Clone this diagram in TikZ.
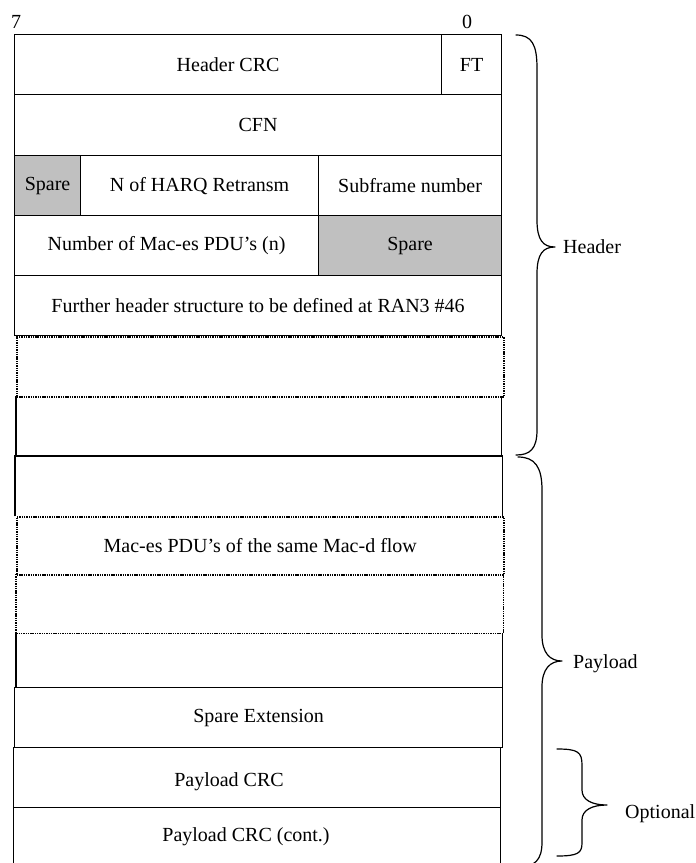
\documentclass[tikz,border=0pt]{standalone}
\usepackage{fontspec}
\setmainfont{Liberation Serif}
\definecolor{sparegray}{RGB}{192,192,192}
\begin{document}
\begin{tikzpicture}[x=1pt,y=-1pt,
  cell/.style={draw, line width=1.2pt, rectangle, inner sep=0pt, anchor=north west, font=\fontsize{20}{24}\selectfont},
  opencell/.style={rectangle, inner sep=0pt, anchor=north west},
  edge/.style={line width=1.2pt},
  dedge/.style={dash pattern=on 1.4pt off 0.9pt, line width=1.6pt},
  dcell/.style={cell, dash pattern=on 1.4pt off 0.9pt, line width=1.6pt},
  sparecell/.style={cell, fill=sparegray},
  lbl/.style={inner sep=0pt, font=\fontsize{20}{24}\selectfont},
  bracepath/.style={line width=1.2pt, line join=round, line cap=round}]
\useasboundingbox (0,0) rectangle (696,863);
% row 1
\node[cell, minimum width=427pt, minimum height=60pt] (hcrc) at (14,34) {Header CRC};
\node[cell, minimum width=60pt, minimum height=60pt] (ft) at (441,34) {FT};
% row 2
\node[cell, minimum width=487pt, minimum height=61pt] (cfn) at (14,94) {CFN};
% row 3
\node[sparecell, minimum width=66pt, minimum height=60pt] (spare1) at (14,155) {Spare};
\node[cell, minimum width=238pt, minimum height=60pt] (harq) at (80,155) {N of HARQ Retransm};
\node[cell, minimum width=183pt, minimum height=60pt] (subf) at (318,155) {Subframe number};
% row 4
\node[cell, minimum width=304pt, minimum height=60pt] (nmac) at (14,215) {Number of Mac-es PDU’s (n)};
\node[sparecell, minimum width=183pt, minimum height=60pt] (spare2) at (318,215) {Spare};
% row 5
\node[cell, minimum width=487pt, minimum height=60pt] (further) at (14,275) {Further header structure to be defined at RAN3 \#46};
% row 6
\node[dcell, minimum width=487pt, minimum height=60pt] (dota) at (16,336) {};
% row 7
\node[opencell, minimum width=485pt, minimum height=60pt] (empa) at (16,396) {};
\draw[edge] (empa.north west) -- (empa.south west) -- (empa.south east) -- (empa.north east);
% row 8
\node[opencell, minimum width=487pt, minimum height=60pt] (empb) at (15,456) {};
\draw[edge] (empb.south west) -- (empb.north west) -- (empb.north east) -- (empb.south east);
% row 9
\node[dcell, minimum width=487pt, minimum height=58pt] (macd) at (16,516) {Mac-es PDU’s of the same Mac-d flow};
% row 10
\node[opencell, minimum width=487pt, minimum height=59pt] (dotb) at (16,574) {};
\draw[dedge] (dotb.north west) -- (dotb.south west) -- (dotb.south east) -- (dotb.north east);
% row 11
\node[opencell, minimum width=486pt, minimum height=54pt] (empc) at (16,633) {};
\draw[edge] (empc.north west) -- (empc.south west) -- (empc.south east) -- (empc.north east);
% row 12
\node[cell, minimum width=488pt, minimum height=60pt] (spext) at (14,687) {Spare Extension};
% row 13
\node[cell, minimum width=487pt, minimum height=60pt] (pcrc) at (13,747) {};
\node[lbl] (pcrct) at (229,782) {Payload CRC};
% row 14
\node[cell, minimum width=487pt, minimum height=66pt] (pcrcb) at (13,807) {};
\node[lbl] (pcrcbt) at (246,837) {Payload CRC (cont.)};
% bit labels
\node[lbl, anchor=base] (bseven) at (16,28) {7};
\node[lbl, anchor=base] (bzero) at (467,28) {0};
% braces
\draw[bracepath] (516,35) .. controls (532,35) and (537,45) .. (537,68) -- (537,220)
  .. controls (537,240) and (543,247) .. (555,247)
  .. controls (543,247) and (537,254) .. (537,274) -- (537,430)
  .. controls (537,449) and (530,455) .. (516,455);
\draw[bracepath] (518,457) .. controls (535,457) and (542,467) .. (542,490) -- (542,635)
  .. controls (542,653) and (550,661) .. (562,661)
  .. controls (550,661) and (542,669) .. (542,687) -- (542,842)
  .. controls (542,860) and (535,867) .. (518,867);
\draw[bracepath] (557,749) .. controls (578,749) and (582,752) .. (582,765) -- (582,790)
  .. controls (582,800) and (592,805) .. (607,805)
  .. controls (592,805) and (582,810) .. (582,820) -- (582,843)
  .. controls (582,853) and (578,856) .. (557,856);
\node[lbl, anchor=base west] (hdr) at (563,253) {Header};
\node[lbl, anchor=base west] (pay) at (573,668) {Payload};
\node[lbl, anchor=base west] (opt) at (625,818) {Optional};
\end{tikzpicture}
\end{document}
